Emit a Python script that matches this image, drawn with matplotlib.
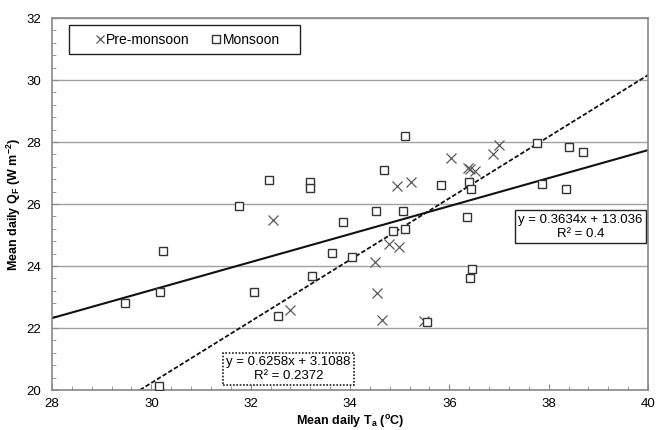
import matplotlib
matplotlib.use("Agg")
import matplotlib.pyplot as plt
from matplotlib.patches import Rectangle
from matplotlib.ticker import MultipleLocator

plt.rcParams['font.family'] = ['Liberation Sans', 'DejaVu Sans']
plt.rcParams['mathtext.fontset'] = 'custom'
plt.rcParams['mathtext.rm'] = 'Liberation Sans'
plt.rcParams['mathtext.bf'] = 'Liberation Sans:bold'
plt.rcParams['mathtext.default'] = 'bf'

# pre-monsoon (crosses)
pre_t = [32.45, 32.79, 34.51, 34.55, 34.65, 34.79, 34.95, 34.99, 35.22, 35.49,
         36.03, 36.38, 36.42, 36.51, 36.87, 37.00]
pre_q = [25.48, 22.58, 24.12, 23.12, 22.26, 24.70, 26.57, 24.62, 26.72, 22.24,
         27.47, 27.15, 27.12, 27.08, 27.60, 27.90]

# monsoon (squares)
mon_t = [29.47, 30.18, 30.23, 30.16, 31.77, 32.06, 32.37, 32.55, 33.19, 33.19,
         33.24, 33.63, 33.85, 34.04, 34.53, 34.69, 34.87, 35.07, 35.10, 35.10,
         35.56, 35.83, 36.36, 36.39, 36.41, 36.43, 36.46, 37.77, 37.87, 38.35,
         38.40, 38.69]
mon_q = [22.80, 23.16, 24.48, 20.14, 25.95, 23.16, 26.76, 22.39, 26.72, 26.53,
         23.69, 24.43, 25.43, 24.28, 25.77, 27.10, 25.13, 25.78, 25.18, 28.19,
         22.19, 26.63, 25.59, 26.70, 23.62, 26.48, 23.90, 27.98, 26.66, 26.47,
         27.84, 27.69]

# trend lines as drawn on the chart
solid_x = [28, 40]
solid_y = [22.32, 27.74]
dash_x = [29.77, 40]
dash_y = [20.0, 30.16]

eq_solid = "y = 0.3634x + 13.036\nR\u00b2 = 0.4"
eq_dash = "y = 0.6258x + 3.1088\nR\u00b2 = 0.2372"

fig = plt.figure(figsize=(6.56, 4.30), dpi=100)
ax = fig.add_axes([0.0793, 0.093, 0.9085, 0.865])

ax.grid(axis='y', color='#a0a0a0', lw=1.0)
ax.set_axisbelow(True)

ax.plot(solid_x, solid_y, color='#111111', lw=1.5, zorder=2)
ax.plot(dash_x, dash_y, color='#111111', lw=1.3, ls=(0, (2.5, 1.2)), zorder=2)

ax.plot(pre_t, pre_q, ls='none', marker='x', ms=7.5, mew=0.9, color='#5a5a5a',
        label='Pre-monsoon', zorder=3)
ax.plot(mon_t, mon_q, ls='none', marker='s', ms=5.5, mew=1.0, mfc='white',
        mec='#333333', label='Monsoon', zorder=3)

ax.set_xlim(28, 40)
ax.set_ylim(20, 32)
ax.xaxis.set_major_locator(MultipleLocator(2))
ax.xaxis.set_minor_locator(MultipleLocator(0.4))
ax.yaxis.set_major_locator(MultipleLocator(2))
ax.yaxis.set_minor_locator(MultipleLocator(0.4))
ax.tick_params(which='both', direction='in', color='#888888', labelsize=9.5)
ax.tick_params(which='major', length=4)
ax.tick_params(which='minor', length=3)
ax.tick_params(axis='y', pad=8)
ax.tick_params(axis='x', pad=6)
for s in ax.spines.values():
    s.set_color('#888888')
    s.set_linewidth(1.2)

ax.set_xlabel(r'Mean daily T$_a$ ($^o$C)', fontsize=9, fontweight='bold', labelpad=2)
ax.set_ylabel(r'Mean daily Q$_F$ (W m$^{-2}$)', fontsize=9, fontweight='bold', labelpad=2)

ax.text(38.64, 25.27, eq_solid, ha='center', va='center', fontsize=9.5,
        multialignment='center',
        bbox=dict(boxstyle='square,pad=0.25', fc='white', ec='#222222', lw=1.0))
ax.text(32.76, 20.68, eq_dash, ha='center', va='center', fontsize=9.5,
        multialignment='center',
        bbox=dict(boxstyle='square,pad=0.25', fc='white', ec='#222222', lw=1.2,
                  ls=(0, (1, 1))))

# legend frame drawn as a box, entries placed inside it
ax.add_patch(Rectangle((0.0285, 0.903), 0.3876, 0.078, transform=ax.transAxes,
                       fc='white', ec='#222222', lw=1.0, zorder=4))
leg = ax.legend(loc='center left', bbox_to_anchor=(0.0713, 0.942), ncol=2,
                fontsize=10, frameon=False, borderpad=0, borderaxespad=0,
                handlelength=0.8, handletextpad=0.05, columnspacing=1.5)
leg.set_zorder(5)
leg.legend_handles[0].set_markersize(6)

fig.savefig('out.png', dpi=100)
